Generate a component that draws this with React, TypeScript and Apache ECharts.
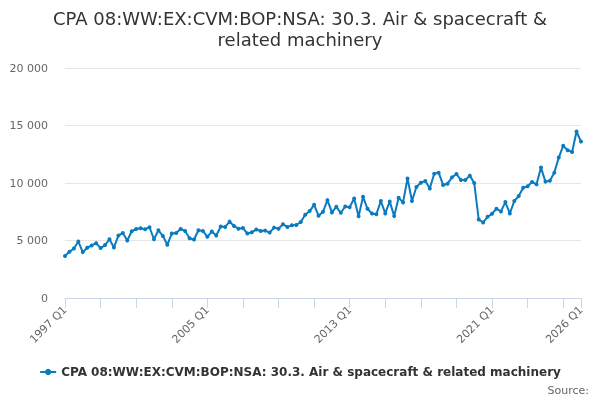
import React, { useEffect, useRef } from 'react';
import * as echarts from 'echarts';

const SERIES_NAME = 'CPA 08:WW:EX:CVM:BOP:NSA: 30.3. Air & spacecraft & related machinery';

// 1997 Q1 .. 2026 Q1
const quarters: string[] = [];
for (let y = 1997; y <= 2026; y++) {
  for (let q = 1; q <= 4; q++) {
    if (y === 2026 && q > 1) break;
    quarters.push(`${y} Q${q}`);
  }
}

const values = [
  3650, 4020, 4310, 4910, 3990, 4370, 4570, 4770, 4340, 4600,
  5110, 4400, 5430, 5660, 5000, 5800, 6000, 6060, 5980, 6150,
  5110, 5890, 5400, 4630, 5600, 5660, 6000, 5830, 5200, 5090,
  5890, 5830, 5320, 5780, 5430, 6210, 6180, 6640, 6260, 6030,
  6090, 5600, 5720, 5950, 5830, 5860, 5690, 6120, 6030, 6410,
  6180, 6320, 6350, 6610, 7240, 7560, 8100, 7160, 7500, 8510,
  7440, 7930, 7410, 7960, 7900, 8650, 7100, 8800, 7760, 7340,
  7280, 8430, 7355, 8400, 7120, 8720, 8310, 10400, 8430, 9650,
  10030, 10170, 9530, 10810, 10900, 9830, 9940, 10490, 10780, 10260,
  10260, 10640, 10000, 6830, 6570, 7060, 7330, 7760, 7530, 8340,
  7350, 8430, 8870, 9590, 9710, 10090, 9880, 11340, 10120, 10200,
  10900, 12210, 13230, 12850, 12700, 14480, 13600,
];

const yTicks = [0, 5000, 10000, 15000, 20000];

const FONT = 'DejaVu Sans, sans-serif';

const fmt = (v: number) => String(v).replace(/\B(?=(\d{3})+(?!\d))/g, ' ');

const App = () => {
  const chartRef = useRef<HTMLDivElement>(null);

  useEffect(() => {
    if (!chartRef.current) return;
    const chart = echarts.init(chartRef.current, null, { renderer: 'svg' });
    const last = quarters.length - 1;

    const option = {
      animation: false,
      textStyle: { fontFamily: FONT },
      title: {
        text: 'CPA 08:WW:EX:CVM:BOP:NSA: 30.3. Air & spacecraft &\nrelated machinery',
        left: 'center',
        top: 3,
        textStyle: {
          fontFamily: FONT,
          fontSize: 18,
          fontWeight: 'normal',
          color: '#333333',
          lineHeight: 21,
          align: 'center',
        },
      },
      grid: { left: 65, right: 19, top: 68, bottom: 102 },
      xAxis: {
        type: 'category',
        data: quarters,
        boundaryGap: false,
        axisLine: { lineStyle: { color: '#ccd6eb' } },
        axisTick: {
          length: 10,
          lineStyle: { color: '#ccd6eb' },
          interval: (idx: number) => idx % 8 === 0 || idx === last,
        },
        axisLabel: {
          rotate: 45,
          margin: 10,
          color: '#666666',
          fontSize: 11,
          fontFamily: FONT,
          interval: (idx: number) => idx % 32 === 0 || idx === last,
        },
        splitLine: { show: false },
      },
      yAxis: {
        type: 'value',
        min: yTicks[0],
        max: yTicks[yTicks.length - 1],
        interval: 5000,
        axisLine: { show: false },
        axisTick: { show: false },
        axisLabel: {
          color: '#666666',
          fontSize: 11,
          fontFamily: FONT,
          margin: 17,
          formatter: (v: number) => fmt(v),
        },
        splitLine: { lineStyle: { color: '#e6e6e6' } },
      },
      legend: {
        bottom: 17,
        left: 'center',
        itemWidth: 16,
        itemHeight: 8,
        itemGap: 8,
        textStyle: {
          fontFamily: FONT,
          fontSize: 12,
          fontWeight: 'bold',
          color: '#333333',
        },
        data: [SERIES_NAME],
      },
      graphic: [
        {
          type: 'text',
          right: 11,
          bottom: 4,
          style: {
            text: 'Source:',
            fill: '#666666',
            fontSize: 11,
            fontFamily: FONT,
          },
        },
      ],
      series: [
        {
          name: SERIES_NAME,
          type: 'line',
          data: values,
          symbol: 'circle',
          symbolSize: 4,
          showAllSymbol: true,
          lineStyle: { width: 2, color: '#0b7bc1' },
          itemStyle: { color: '#0b7bc1' },
        },
      ],
    };

    chart.setOption(option);

    return () => {
      chart.dispose();
    };
  }, []);

  return (
    <div
      ref={chartRef}
      style={{ position: 'fixed', left: 0, top: 0, width: '600px', height: '400px' }}
    />
  );
};

export default App;
